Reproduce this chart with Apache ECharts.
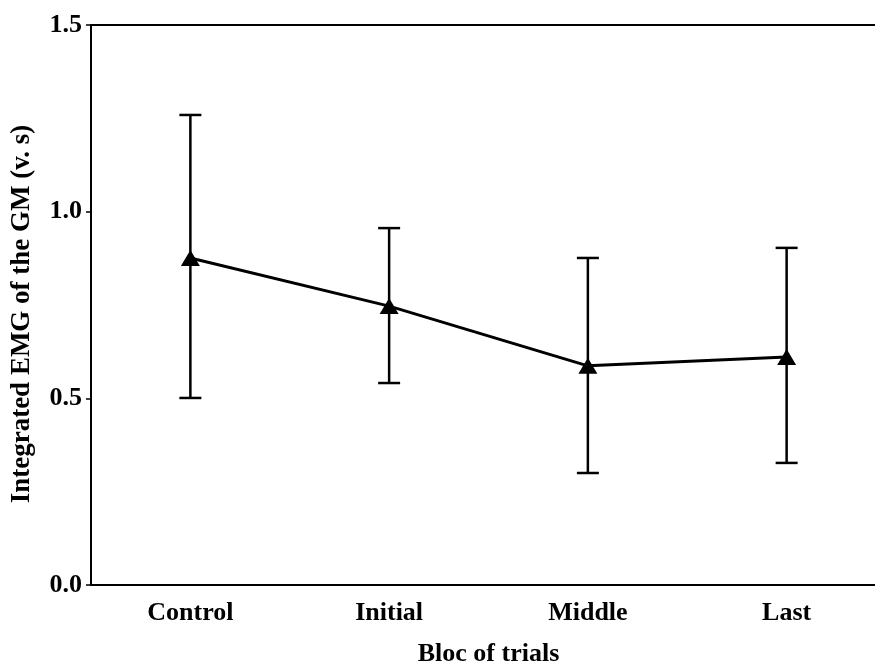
<!DOCTYPE html>
<html>
<head>
<meta charset="utf-8">
<script src="https://cdn.jsdelivr.net/npm/echarts@6/dist/echarts.min.js"></script>
<style>
html,body{margin:0;padding:0;background:#fff;}
#chart{width:875px;height:667px;}
</style>
</head>
<body>
<div id="chart"></div>
<script>
var categories = ['Control', 'Initial', 'Middle', 'Last'];
var means = [0.876, 0.747, 0.587, 0.611];
var upper = [1.259, 0.956, 0.876, 0.903];
var lower = [0.501, 0.541, 0.300, 0.327];
var yTicks = [0, 0.5, 1.0, 1.5];

var FONT = '"Liberation Serif", "Times New Roman", serif';
var chart = echarts.init(document.getElementById('chart'), null, {renderer: 'canvas'});

var errData = categories.map(function (c, i) { return [i, lower[i], upper[i]]; });

chart.setOption({
  animation: false,
  backgroundColor: '#fff',
  grid: {left: 91, top: 25, height: 560, width: 795, containLabel: false, outerBoundsMode: 'none'},
  xAxis: [{
    type: 'category',
    data: categories,
    boundaryGap: true,
    position: 'bottom',
    axisLine: {show: true, lineStyle: {color: '#000', width: 2}},
    axisTick: {show: false},
    axisLabel: {color: '#000', fontFamily: FONT, fontWeight: 'bold', fontSize: 26, margin: 15},
    name: 'Bloc of trials',
    nameLocation: 'middle',
    nameGap: 56,
    nameTextStyle: {color: '#000', fontFamily: FONT, fontWeight: 'bold', fontSize: 26}
  }, {
    type: 'category',
    data: categories,
    position: 'top',
    axisLine: {show: true, lineStyle: {color: '#000', width: 2}},
    axisTick: {show: false},
    axisLabel: {show: false}
  }],
  yAxis: {
    type: 'value',
    min: yTicks[0],
    max: yTicks[yTicks.length - 1],
    interval: 0.5,
    splitLine: {show: false},
    axisLine: {show: true, lineStyle: {color: '#000', width: 2}},
    axisTick: {show: true, inside: false, length: 5, lineStyle: {color: '#000', width: 1.5}},
    axisLabel: {color: '#000', fontFamily: FONT, fontWeight: 'bold', fontSize: 26, margin: 9,
      formatter: function (v) { return v.toFixed(1); }},
    name: 'Integrated EMG of the GM (v. s)',
    nameLocation: 'middle',
    nameGap: 55,
    nameTextStyle: {color: '#000', fontFamily: FONT, fontWeight: 'bold', fontSize: 27, padding: [0, 18, 0, 0]}
  },
  series: [{
    type: 'custom',
    data: errData,
    z: 2,
    renderItem: function (params, api) {
      var x = api.value(0);
      var lo = api.coord([x, api.value(1)]);
      var hi = api.coord([x, api.value(2)]);
      var hw = 11;
      var st = {stroke: '#000', lineWidth: 2.5};
      return {
        type: 'group',
        children: [
          {type: 'line', shape: {x1: hi[0], y1: hi[1], x2: lo[0], y2: lo[1]}, style: st},
          {type: 'line', shape: {x1: hi[0] - hw, y1: hi[1], x2: hi[0] + hw, y2: hi[1]}, style: st},
          {type: 'line', shape: {x1: lo[0] - hw, y1: lo[1], x2: lo[0] + hw, y2: lo[1]}, style: st}
        ]
      };
    }
  }, {
    type: 'line',
    data: means,
    z: 3,
    symbol: 'triangle',
    symbolSize: [19, 16],
    showSymbol: true,
    lineStyle: {color: '#000', width: 3},
    itemStyle: {color: '#000', borderWidth: 0}
  }]
});
</script>
</body>
</html>
